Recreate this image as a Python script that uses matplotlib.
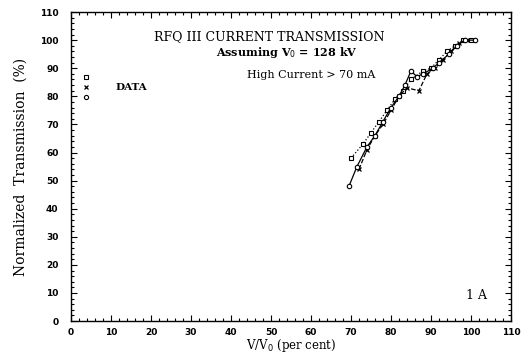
import matplotlib
matplotlib.use('Agg')
import matplotlib.pyplot as plt
from matplotlib.ticker import MultipleLocator

# (V/V0 in per cent, transmission in %)
sq_x = [70, 73, 75, 77, 79, 81, 83, 85, 88, 90, 92, 94, 96, 98, 100]
sq_y = [58, 63, 67, 71, 75, 79, 82, 86, 89, 90, 93, 96, 98, 100, 100]

x_x = [72, 74, 76, 78, 80, 82, 84, 87, 89, 91, 93, 95, 97, 99]
x_y = [54, 61, 66, 70, 75, 80, 83, 82, 88, 90, 93, 96, 99, 100]

o_x = [69.5, 71.5, 74, 76, 78, 80, 82, 83.5, 85, 86.5, 88, 90.5, 92, 94.5, 96.5, 98.5, 101]
o_y = [48, 55, 62, 66, 71, 76, 80, 84, 89, 87, 88, 90, 92, 95, 98, 100, 100]

xticks = list(range(0, 111, 10))
yticks = list(range(0, 111, 10))

plt.rcParams['font.family'] = ['DejaVu Serif']
fig = plt.figure(figsize=(5.3, 3.54), dpi=100)
ax = fig.add_axes([0.134, 0.093, 0.830, 0.873])

ax.plot(sq_x, sq_y, color='black', linestyle=':', linewidth=0.9,
        marker='s', markersize=3.2, markerfacecolor='white', markeredgewidth=0.8)
ax.plot(x_x, x_y, color='black', linestyle='--', linewidth=0.9,
        marker='x', markersize=3.2, markeredgewidth=0.9)
ax.plot(o_x, o_y, color='black', linestyle='-', linewidth=0.9,
        marker='o', markersize=3.2, markerfacecolor='white', markeredgewidth=0.8)

ax.set_xlim(0, 110)
ax.set_ylim(0, 110)
ax.set_xticks(xticks)
ax.set_yticks(yticks)
ax.xaxis.set_minor_locator(MultipleLocator(2))
ax.yaxis.set_minor_locator(MultipleLocator(2))
ax.tick_params(which='both', direction='in', top=True, right=True, width=0.8)
ax.tick_params(which='major', length=4, labelsize=6.5)
ax.tick_params(which='minor', length=2)
ax.tick_params(axis='x', which='major', pad=5)
ax.tick_params(axis='y', which='major', pad=9)
for lab in ax.get_xticklabels() + ax.get_yticklabels():
    lab.set_fontweight('bold')
    lab.set_family('DejaVu Sans')
for sp in ax.spines.values():
    sp.set_linewidth(1.0)

ax.set_xlabel('V/V$_0$ (per cent)', fontsize=8.5, labelpad=0)
ax.set_ylabel('Normalized  Transmission  (%)', fontsize=10, labelpad=9)

ax.text(0.45, 0.91, 'RFQ III CURRENT TRANSMISSION', transform=ax.transAxes,
        ha='center', fontsize=9)
ax.text(0.49, 0.858, 'Assuming V$_0$ = 128 kV', transform=ax.transAxes,
        ha='center', fontsize=8, fontweight='bold')
ax.text(0.545, 0.785, 'High Current > 70 mA', transform=ax.transAxes,
        ha='center', fontsize=8)
ax.text(0.945, 0.07, '1 A', transform=ax.transAxes, ha='right', fontsize=9)

# legend stack of markers with single DATA label
ax.plot([3.7], [86.8], marker='s', markersize=3, color='black', markerfacecolor='white', markeredgewidth=0.8)
ax.plot([3.7], [83.3], marker='x', markersize=3, color='black', markeredgewidth=0.9)
ax.plot([3.7], [79.8], marker='o', markersize=3, color='black', markerfacecolor='white', markeredgewidth=0.8)
ax.text(11, 83.3, 'DATA', fontsize=7.5, fontweight='bold', va='center')

fig.savefig('out.png', dpi=100)
